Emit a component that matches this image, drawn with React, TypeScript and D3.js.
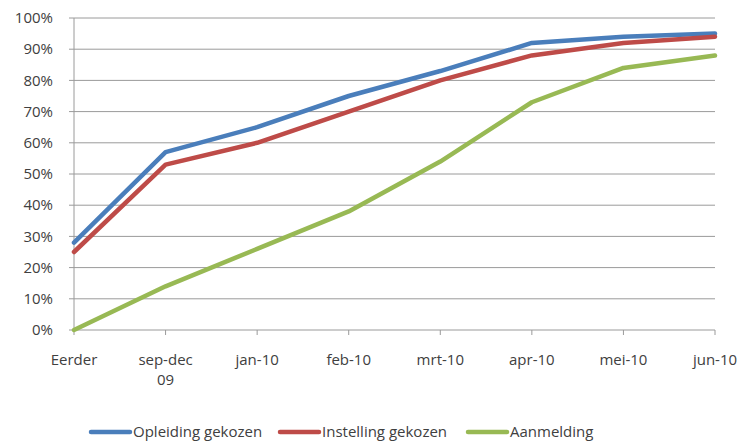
import React from "react";
import * as d3 from "d3";

const categories = ["Eerder", "sep-dec\n09", "jan-10", "feb-10", "mrt-10", "apr-10", "mei-10", "jun-10"];
const opleiding = [28, 57, 65, 75, 83, 92, 94, 95];
const instelling = [25, 53, 60, 70, 80, 88, 92, 94];
const aanmelding = [0, 14, 26, 38, 54, 73, 84, 88];
const yTicks = [0, 10, 20, 30, 40, 50, 60, 70, 80, 90, 100];

const series = [
  { name: "Opleiding gekozen", values: opleiding, color: "#4a7ebb" },
  { name: "Instelling gekozen", values: instelling, color: "#be4b48" },
  { name: "Aanmelding", values: aanmelding, color: "#98b954" },
];

const W = 742, H = 441;
const left = 74, right = 715, top = 18, bottom = 330;
const font = "'Open Sans', 'DejaVu Sans', sans-serif";

export default function App() {
  const x = d3.scalePoint<number>().domain(categories.map((_, i) => i)).range([left, right]);
  const y = d3.scaleLinear().domain([0, 100]).range([bottom, top]);
  const line = d3.line<number>().x((_, i) => x(i)!).y((d) => y(d));
  const legendX = [91, 280, 468];
  return (
    <svg width={W} height={H} style={{ position: "absolute", left: 0, top: 0 }}>
      <rect width={W} height={H} fill="#fff" />
      {yTicks.map((t) => (
        <g key={t}>
          <line x1={left - 5} x2={right} y1={y(t)} y2={y(t)} stroke="#9a9a9a" strokeWidth={1} />
          <text x={53} y={y(t)} dy="0.35em" textAnchor="end" fontFamily={font} fontSize={15} fill="#404040">
            {t}%
          </text>
        </g>
      ))}
      <line x1={left} x2={left} y1={top} y2={bottom} stroke="#9a9a9a" />
      {categories.map((c, i) => (
        <g key={i}>
          <line x1={x(i)} x2={x(i)} y1={bottom} y2={bottom + 5} stroke="#9a9a9a" />
          {c.split("\n").map((l, j) => (
            <text key={j} x={x(i)} y={bottom + 35 + j * 20} textAnchor="middle" fontFamily={font} fontSize={15} fill="#404040">
              {l}
            </text>
          ))}
        </g>
      ))}
      {series.map((s) => (
        <path key={s.name} d={line(s.values)!} fill="none" stroke={s.color} strokeWidth={4.5} strokeLinejoin="round" strokeLinecap="round" />
      ))}
      {series.map((s, i) => (
        <g key={s.name}>
          <line x1={legendX[i]} x2={legendX[i] + 39} y1={432} y2={432} stroke={s.color} strokeWidth={4.5} strokeLinecap="round" />
          <text x={legendX[i] + 42} y={432} dy="0.35em" fontFamily={font} fontSize={15} fill="#404040">
            {s.name}
          </text>
        </g>
      ))}
    </svg>
  );
}
